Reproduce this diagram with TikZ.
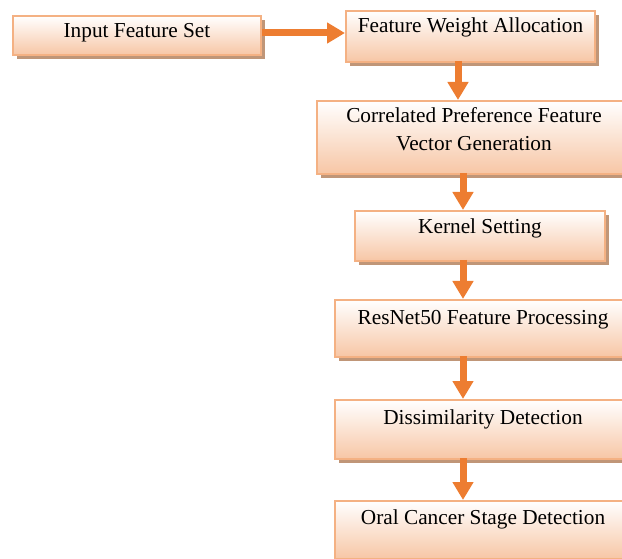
\documentclass[tikz,border=0pt]{standalone}
\usepackage{fontspec}
\setmainfont{Liberation Serif}
\usetikzlibrary{arrows.meta,shadows,calc}
\definecolor{bordercol}{RGB}{244,177,131}
\definecolor{peach}{RGB}{247,198,165}
\definecolor{shadowcol}{RGB}{192,150,120}
\definecolor{arrowcol}{RGB}{237,125,49}
\tikzset{
  box/.style={draw=bordercol, line width=2pt, top color=white, bottom color=peach,
    anchor=north west, inner sep=0pt,
    drop shadow={shadow xshift=3.5pt, shadow yshift=-4pt, fill=shadowcol, opacity=1}},
  txt/.style={anchor=base, inner sep=0pt, align=center, font=\fontsize{21.3}{28}\selectfont},
  flow/.style={draw=arrowcol, line width=7pt, -{Triangle[width=20pt,length=18pt]}}
}
\newcommand{\boxat}[5]{% name, left, top, right, bottom
  \node[box, minimum width=#4pt-#2pt, minimum height=#5pt-#3pt] (#1) at (#2,#3) {};}
\begin{document}
\begin{tikzpicture}[x=1pt,y=-1pt]
\useasboundingbox (0,0) rectangle (622,559);
\boxat{b1}{12}{15}{260}{54}
\boxat{b2}{345}{10}{594}{61}
\boxat{b3}{316}{100}{630}{173}
\boxat{b4}{354}{210}{604}{260}
\boxat{b5}{334}{299}{630}{356}
\boxat{b6}{334}{399}{630}{458}
\boxat{b7}{334}{500}{630}{558}

\node[txt] (t1) at ($(b1.north)+(0,23)$) {Input Feature Set};
\node[txt] (t2) at ($(b2.north)+(0,23)$) {Feature Weight Allocation};
\node[txt, anchor=north] (t3) at ($(b3.north)+(0,7)$) {Correlated Preference Feature\\Vector Generation};
\node[txt] (t4) at ($(b4.north)+(0,24)$) {Kernel Setting};
\node[txt] (t5) at ($(b5.north)+(0,25)$) {ResNet50 Feature Processing};
\node[txt] (t6) at ($(b6.north)+(0,25)$) {Dissimilarity Detection};
\node[txt] (t7) at ($(b7.north)+(0,24)$) {Oral Cancer Stage Detection};

\draw[flow] (b1.east |- 0,33) -- (b2.west |- 0,33);
\draw[flow] (458,61) coordinate (a2s) -- (a2s |- b3.north);
\draw[flow] (463,173) coordinate (a3s) -- (a3s |- b4.north);
\draw[flow] (463,260) coordinate (a4s) -- (a4s |- b5.north);
\draw[flow] (463,356) coordinate (a5s) -- (a5s |- b6.north);
\draw[flow] (463,458) coordinate (a6s) -- (a6s |- b7.north);
\end{tikzpicture}
\end{document}
